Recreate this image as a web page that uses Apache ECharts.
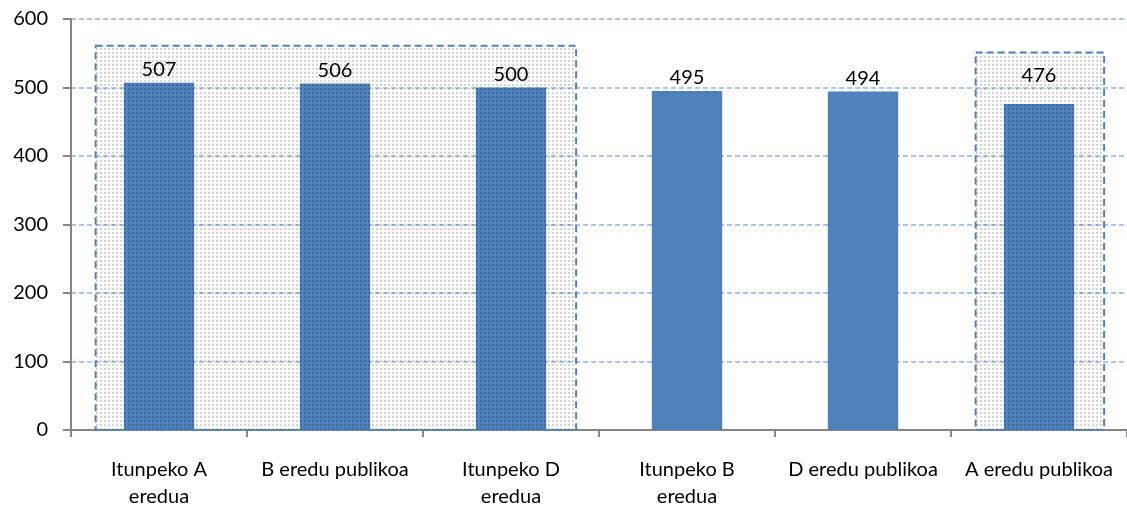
<!DOCTYPE html>
<html>
<head>
<meta charset="utf-8">
<script src="https://cdn.jsdelivr.net/npm/echarts@6/dist/echarts.min.js"></script>
<style>html,body{margin:0;padding:0;background:#fff}#c{width:1127px;height:510px}</style>
</head>
<body>
<div id="c"></div>
<script>
const categories = ['Itunpeko A\neredua', 'B eredu publikoa', 'Itunpeko D\neredua', 'Itunpeko B\neredua', 'D eredu publikoa', 'A eredu publikoa'];
const values = [507, 506, 500, 495, 494, 476];
const yTicks = [0, 100, 200, 300, 400, 500, 600];
// highlighted groups: first category index, last category index, top value
const boxStart = [0, 5];
const boxEnd = [2, 5];
const boxTop = [561, 551];

const pc = document.createElement('canvas');
pc.width = 4; pc.height = 4;
const pctx = pc.getContext('2d');
pctx.fillStyle = 'rgba(0,0,0,0.17)';
pctx.fillRect(0, 0, 2, 2);

const chart = echarts.init(document.getElementById('c'), null, {renderer: 'canvas'});
const font = 'Lato, "Open Sans", sans-serif';
const barData = values.map((v, i) => i === 5 ? {value: v, label: {distance: 18}} : v);
chart.setOption({
  animation: false,
  grid: {left: 71, top: 19, width: 1060, height: 414, containLabel: false},
  xAxis: {
    type: 'category', data: categories,
    axisLine: {lineStyle: {color: '#868686', width: 2}},
    axisTick: {show: true, length: 7, lineStyle: {color: '#868686', width: 2}},
    axisLabel: {color: '#000', fontSize: 20, fontFamily: font, margin: 26, lineHeight: 27, interval: 0}
  },
  yAxis: {
    type: 'value', min: 0, max: 600, interval: 100,
    axisLine: {show: true, lineStyle: {color: '#868686', width: 2}},
    axisTick: {show: true, length: 8, lineStyle: {color: '#868686', width: 2}},
    axisLabel: {color: '#000', fontSize: 20, fontFamily: font, margin: 23,
      formatter: v => yTicks.includes(v) ? String(v) : ''},
    splitLine: {lineStyle: {color: '#8DB3E2', type: [5, 3], width: 1.5}}
  },
  series: [
    {
      type: 'bar', data: barData, barWidth: '40%', z: 2,
      itemStyle: {color: '#4F81BD'},
      label: {show: true, position: 'top', color: '#000', fontSize: 20, fontFamily: font, distance: 3}
    },
    {
      type: 'custom', z: 5,
      data: boxStart.map((s, i) => [s, boxEnd[i], boxTop[i]]),
      renderItem: function (params, api) {
        const band = api.size([1, 0])[0];
        const p0 = api.coord([api.value(0), api.value(2)]);
        const p1 = api.coord([api.value(1), 0]);
        const x0 = p0[0] - band * 0.36;
        const x1 = p1[0] + band * 0.37;
        return {
          type: 'rect',
          shape: {x: x0, y: p0[1], width: x1 - x0, height: p1[1] - p0[1]},
          style: {
            fill: {image: pc, repeat: 'repeat'},
            stroke: '#4F81BD', lineWidth: 2, lineDash: [7, 4]
          }
        };
      }
    }
  ]
});
</script>
</body>
</html>
